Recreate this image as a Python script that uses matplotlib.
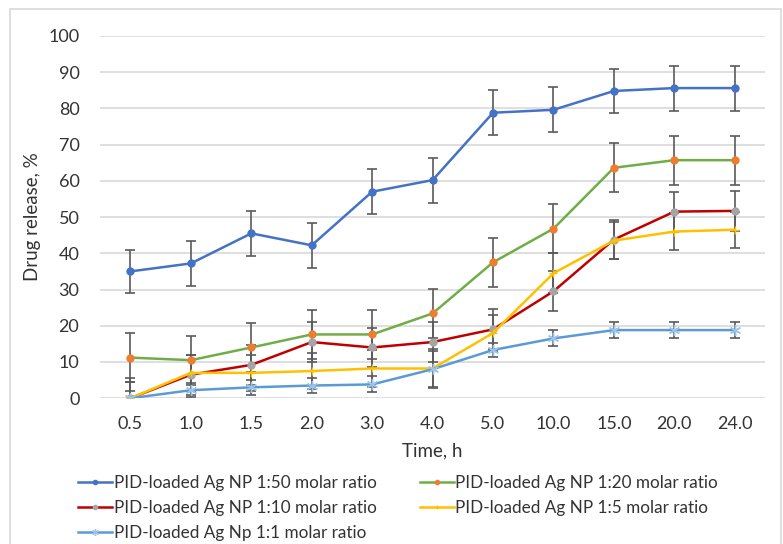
import numpy as np
import matplotlib
matplotlib.use("Agg")
import matplotlib.pyplot as plt
from matplotlib.patches import Rectangle

plt.rcParams['font.family'] = ['Lato', 'DejaVu Sans']

times = ["0.5", "1.0", "1.5", "2.0", "3.0", "4.0", "5.0", "10.0", "15.0", "20.0", "24.0"]

r50 = [35.0, 37.2, 45.5, 42.2, 57.0, 60.2, 78.8, 79.6, 84.8, 85.6, 85.6]
r50_err = [6.0, 6.2, 6.2, 6.2, 6.2, 6.2, 6.2, 6.2, 6.0, 6.2, 6.2]
r20 = [11.2, 10.5, 14.0, 17.6, 17.6, 23.4, 37.5, 46.8, 63.6, 65.7, 65.7]
r20_err = [6.8, 6.8, 6.8, 6.8, 6.8, 6.8, 6.8, 6.8, 6.8, 6.8, 6.8]
r10 = [0.0, 6.5, 9.2, 15.5, 14.0, 15.5, 19.0, 29.5, 43.8, 51.5, 51.7]
r10_err = [5.5, 5.5, 5.5, 5.5, 5.5, 5.5, 5.5, 5.5, 5.5, 5.5, 5.5]
r5 = [0.0, 7.0, 7.0, 7.5, 8.2, 8.2, 18.0, 34.5, 43.5, 46.0, 46.5]
r5_err = [4.5, 5.0, 5.0, 5.0, 5.0, 5.5, 5.0, 5.5, 5.0, 5.0, 5.0]
r1 = [0.0, 2.2, 3.0, 3.5, 3.8, 8.0, 13.3, 16.5, 18.8, 18.8, 18.8]
r1_err = [2.0, 2.0, 2.0, 2.0, 2.2, 5.0, 2.0, 2.2, 2.2, 2.2, 2.2]

labels = ["PID-loaded Ag NP 1:50 molar ratio",
          "PID-loaded Ag NP 1:20 molar ratio",
          "PID-loaded Ag NP 1:10 molar ratio",
          "PID-loaded Ag NP 1:5 molar ratio",
          "PID-loaded Ag Np 1:1 molar ratio"]

fig = plt.figure(figsize=(7.83, 5.44), dpi=100)
ax = fig.add_axes([0.128, 0.268, 0.849, 0.666])
fig.patches.append(Rectangle((10 / 783, -0.1), 771 / 783, 1.1 - 9 / 544,
                             transform=fig.transFigure, fill=False,
                             edgecolor='#d9d9d9', linewidth=1.2))

x = np.arange(len(times))
ebar = dict(ecolor='#5a5a5a', elinewidth=1.2, capsize=3.5, capthick=1.2)

series = [
    (r50, r50_err, '#4472C4', '#4472C4', 'o', 5),
    (r20, r20_err, '#70AD47', '#ED7D31', 'o', 5),
    (r10, r10_err, '#C00000', '#A5A5A5', 'o', 5),
    (r5, r5_err, '#FFC000', '#FFC000', '+', 6),
    (r1, r1_err, '#5B9BD5', '#9DC3E6', (6, 2, 0), 8),
]
handles = []
for (y, e, lc, mc, mk, ms), lab in zip(series, labels):
    ax.errorbar(x, y, yerr=e, fmt='none', zorder=2, **ebar)
    h, = ax.plot(x, y, color=lc, linewidth=1.8, marker=mk, markersize=ms,
                 markerfacecolor=mc, markeredgecolor=mc, zorder=3, label=lab)
    handles.append(h)

ax.set_xlim(-0.5, len(times) - 0.5)
ax.set_ylim(0, 100)
ax.set_yticks(np.arange(0, 101, 10))
ax.set_xticks(x)
ax.set_xticklabels(times)
ax.grid(axis='y', color='#d9d9d9', linewidth=1.2)
ax.set_axisbelow(True)
for s in ax.spines.values():
    s.set_visible(False)
ax.tick_params(length=0, labelsize=13, colors='#333333')
ax.tick_params(axis='y', pad=15)
ax.tick_params(axis='x', pad=13)
ax.set_ylabel("Drug release, %", fontsize=13.5, color='#333333', labelpad=5)
ax.set_xlabel("Time, h", fontsize=13.5, color='#333333', labelpad=7)

# row-wise order: 1:50, 1:20 / 1:10, 1:5 / 1:1
order = [0, 2, 4, 1, 3]
fig.legend(handles=[handles[i] for i in order], loc='upper left',
           bbox_to_anchor=(0.091, 0.14), ncol=2, frameon=False,
           fontsize=12.3, handlelength=2.0, handletextpad=0.1,
           columnspacing=2.5, labelspacing=0.55, markerscale=0.6,
           borderaxespad=0, labelcolor='#333333')

fig.savefig("out.png", dpi=100)
